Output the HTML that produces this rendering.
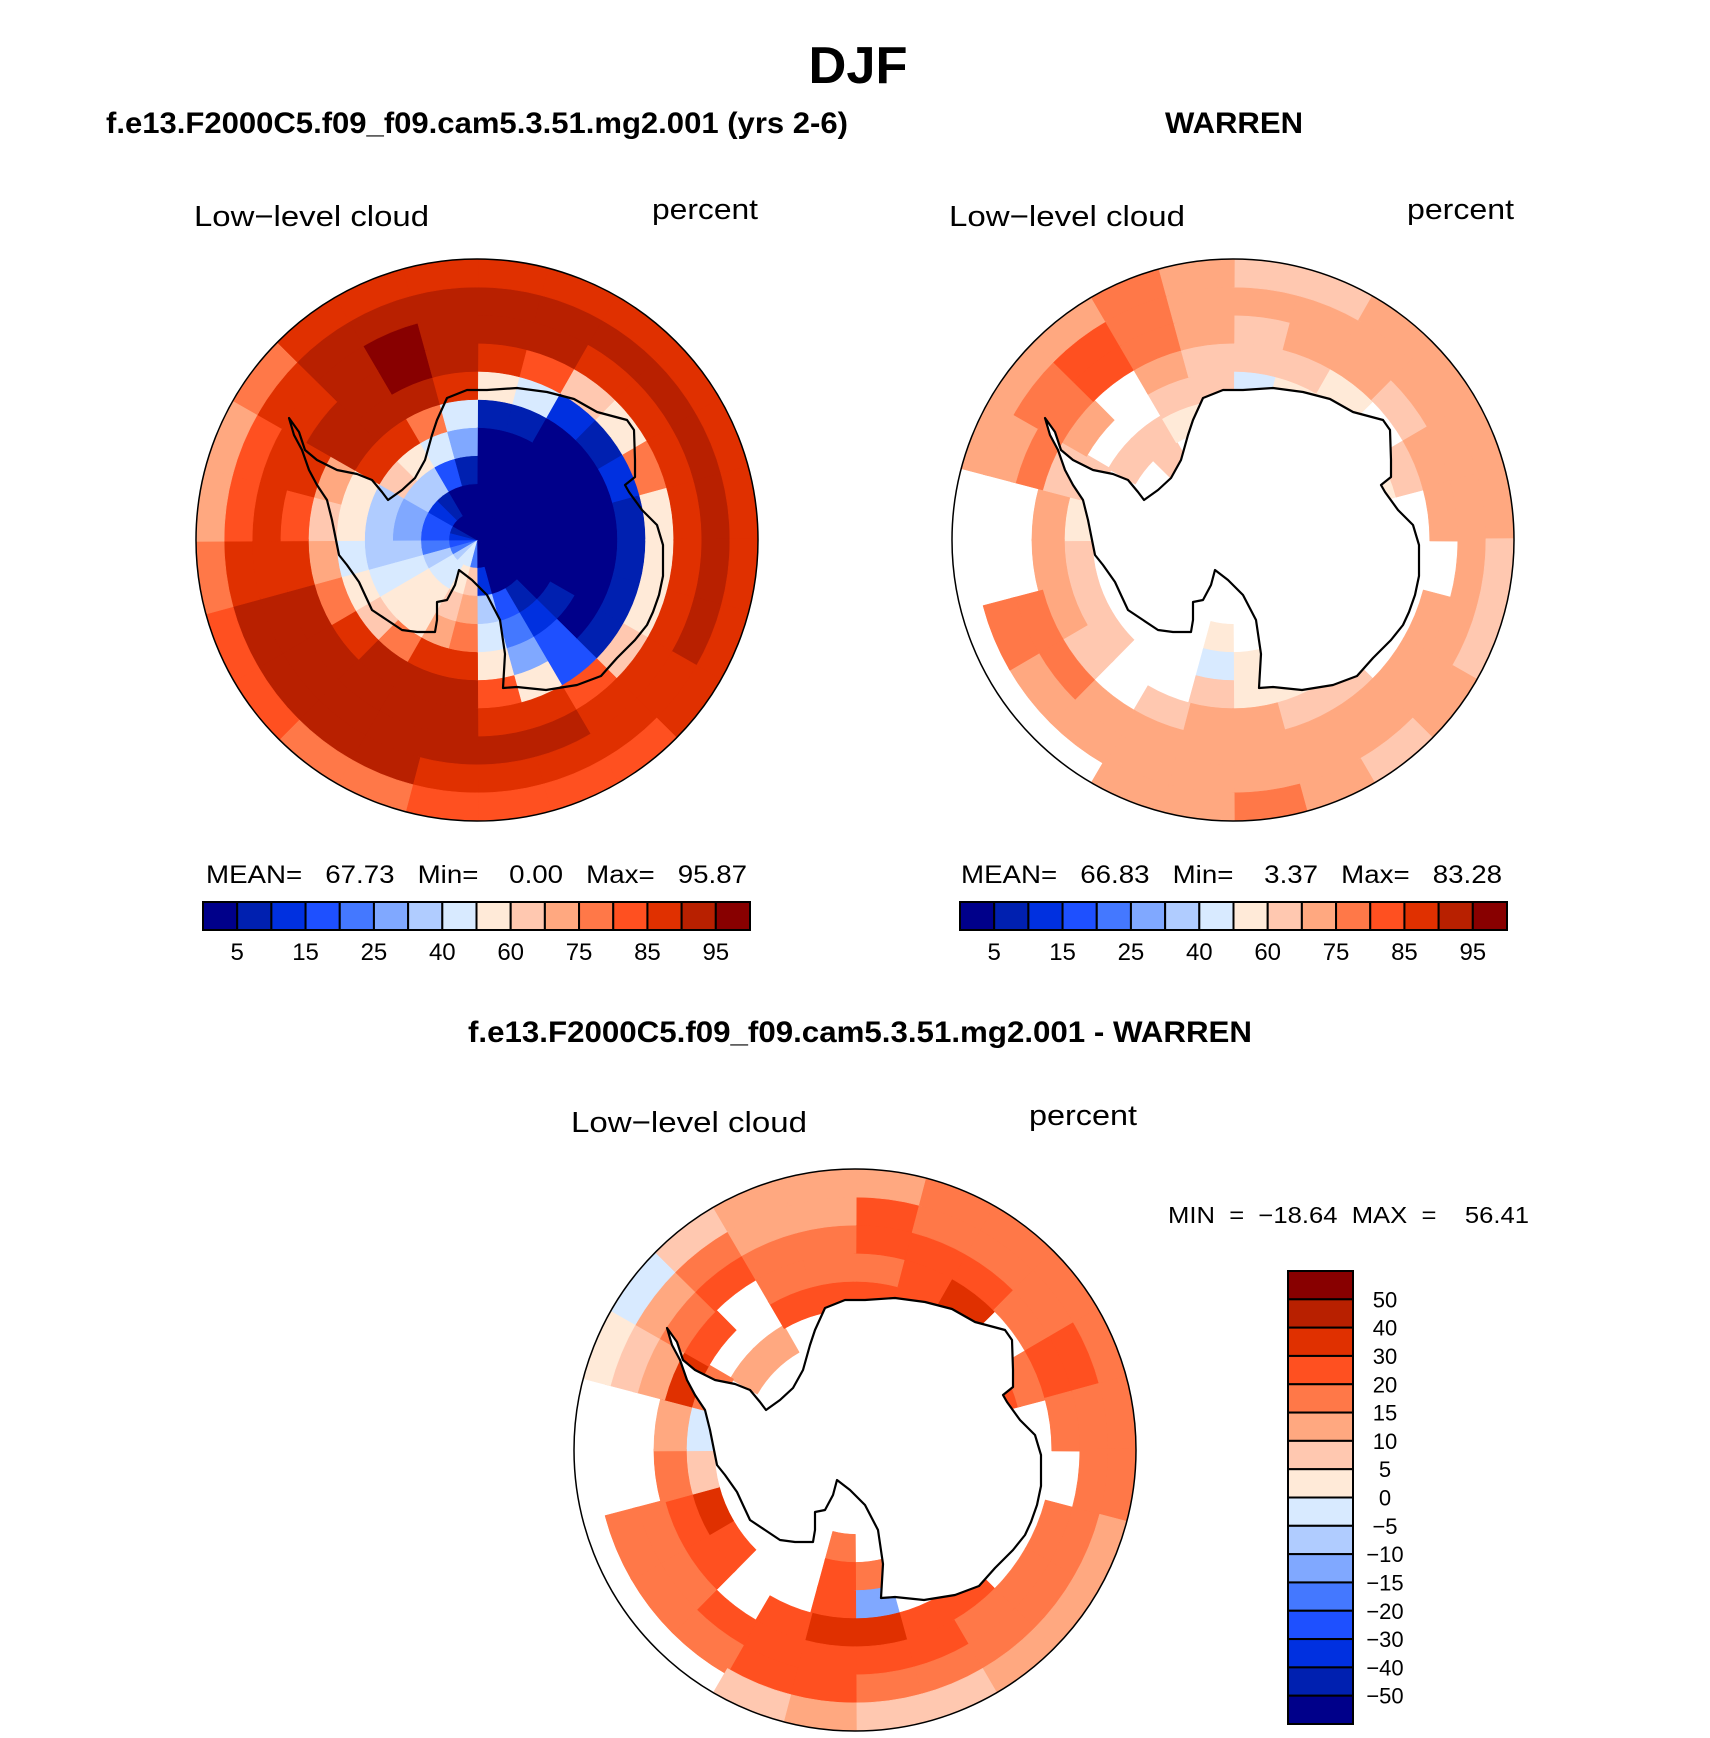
<!DOCTYPE html>
<html><head><meta charset="utf-8"><title>DJF Low-level cloud</title>
<style>
html,body{margin:0;padding:0;background:#fff;}
svg{display:block;}
text{font-family:"Liberation Sans",Arial,sans-serif;fill:#000;}
.b{font-weight:bold;}
.pre{white-space:pre;}
</style></head>
<body>
<svg id="fig" width="1710" height="1738" viewBox="0 0 1710 1738" xmlns="http://www.w3.org/2000/svg">
  <rect x="0" y="0" width="1710" height="1738" fill="#fff"/>
  <text class="b" x="858" y="83" font-size="52" text-anchor="middle" textLength="99" lengthAdjust="spacingAndGlyphs">DJF</text>
  <text class="b" x="106" y="133" font-size="30" textLength="742" lengthAdjust="spacingAndGlyphs">f.e13.F2000C5.f09_f09.cam5.3.51.mg2.001 (yrs 2-6)</text>
  <text class="b" x="1165" y="133" font-size="30" textLength="138" lengthAdjust="spacingAndGlyphs">WARREN</text>
  <text class="b" x="468" y="1042" font-size="30" textLength="784" lengthAdjust="spacingAndGlyphs">f.e13.F2000C5.f09_f09.cam5.3.51.mg2.001 - WARREN</text>

  <text x="194" y="226" font-size="29" textLength="235" lengthAdjust="spacingAndGlyphs">Low−level cloud</text>
  <text x="652" y="219" font-size="29" textLength="106" lengthAdjust="spacingAndGlyphs">percent</text>
  <text x="949" y="226" font-size="29" textLength="236" lengthAdjust="spacingAndGlyphs">Low−level cloud</text>
  <text x="1407" y="219" font-size="29" textLength="107" lengthAdjust="spacingAndGlyphs">percent</text>
  <text x="571" y="1132" font-size="29" textLength="236" lengthAdjust="spacingAndGlyphs">Low−level cloud</text>
  <text x="1029" y="1125" font-size="29" textLength="108" lengthAdjust="spacingAndGlyphs">percent</text>

  <text class="pre" x="206" y="883" font-size="25" textLength="541" lengthAdjust="spacingAndGlyphs">MEAN=   67.73   Min=    0.00   Max=   95.87</text>
  <text class="pre" x="961" y="883" font-size="25" textLength="541" lengthAdjust="spacingAndGlyphs">MEAN=   66.83   Min=    3.37   Max=   83.28</text>
  <text class="pre" x="1168" y="1223" font-size="23" textLength="361" lengthAdjust="spacingAndGlyphs">MIN  =  −18.64  MAX  =    56.41</text>
  <g id="layer"></g>
</svg>
<script>
// ---------- data ----------
const absColors = ["#00008a","#0020b0","#0030e0","#1e50ff","#4478ff","#80a8ff","#b0ccff","#d8eaff","#ffead8","#ffc8b0","#ffa880","#ff7848","#ff5020","#e03000","#b82000","#880000"];
const absLevels = [5,10,15,20,25,30,40,50,60,70,75,80,85,90,95];
const absTickLabels = ["5","15","25","40","60","75","85","95"];
const diffLevels = [-50,-40,-30,-20,-15,-10,-5,0,5,10,15,20,30,40,50];
const diffTickLabels = ["50","40","30","20","15","10","5","0","−5","−10","−15","−20","−30","−40","−50"];
// polar grid: 10 rings (inner->outer) x 24 sectors (clockwise from top, 15 deg each)
const N = null;
const modelValues = [
 [2,2,2,2,2,2,2,2,2,2,2,2,20,40,45,30,20,15,10,5,3,2,2,2],
 [2,2,2,2,2,2,2,2,2,2,3,10,60,55,45,40,30,20,15,15,12,8,3,2],
 [2,2,2,2,2,2,2,2,3,8,15,30,70,60,55,50,40,30,25,25,30,35,15,5],
 [3,2,2,2,2,2,2,2,5,12,20,40,75,70,55,55,45,35,30,35,65,55,40,25],
 [8,5,2,2,3,2,2,2,3,15,25,55,88,85,75,60,55,45,50,55,86,85,75,40],
 [55,40,10,8,10,5,5,5,8,15,50,80,92,92,90,85,75,70,65,70,90,92,92,85],
 [88,80,65,55,75,55,50,50,60,80,85,88,92,92,92,92,90,85,82,85,90,93,96,93],
 [92,91,88,86,88,86,85,86,87,88,90,91,92,92,92,92,91,88,86,86,88,92,96,93],
 [91,91,90,91,92,92,91,90,88,88,88,88,88,90,91,91,90,85,82,80,86,90,91,91],
 [88,87,87,88,88,88,87,86,85,83,82,80,80,78,78,80,82,78,72,70,78,86,88,88]
];
const obsValues = [
 [N,N,N,N,N,N,N,N,N,N,N,N,N,N,N,N,N,N,N,N,N,N,N,N],
 [N,N,N,N,N,N,N,N,N,N,N,N,N,N,N,N,N,N,N,N,N,N,N,N],
 [N,N,N,N,N,N,N,N,N,N,N,N,N,N,N,N,N,N,N,N,N,N,N,N],
 [N,N,N,N,N,N,N,N,N,N,N,N,55,N,N,N,N,N,N,N,N,60,N,N],
 [N,N,N,N,N,N,N,N,N,N,N,50,45,N,N,N,N,N,N,N,65,65,55,N],
 [45,50,55,N,50,N,N,55,N,N,55,50,60,N,N,65,65,60,55,60,N,N,60,60],
 [65,60,55,N,62,N,N,N,N,65,68,70,72,65,N,68,72,72,70,68,72,N,70,66],
 [68,72,70,62,72,72,N,72,72,72,72,72,72,72,70,76,76,N,N,76,78,80,76,70],
 [72,72,72,72,74,73,72,72,72,72,73,72,72,72,72,70,78,N,N,72,76,82,78,74],
 [66,66,72,72,72,72,68,68,72,66,72,78,72,70,N,N,N,N,N,72,72,72,76,72]
];
const diffValues = [
 [N,N,N,N,N,N,N,N,N,N,N,N,N,N,N,N,N,N,N,N,N,N,N,N],
 [N,N,N,N,N,N,N,N,N,N,N,N,N,N,N,N,N,N,N,N,N,N,N,N],
 [N,N,N,N,N,N,N,N,N,N,N,N,N,N,N,N,N,N,N,N,N,N,N,N],
 [N,N,N,N,N,N,N,N,N,N,N,N,15,N,N,N,N,N,N,N,N,N,N,N],
 [N,N,N,N,N,N,N,N,N,N,N,15,20,N,N,N,N,N,N,N,12,10,N,N],
 [22,25,35,N,25,N,N,25,N,N,N,-15,25,N,N,25,30,8,-5,15,N,N,25,20],
 [18,25,35,N,18,N,N,N,N,25,25,30,30,25,N,22,25,15,10,30,25,N,18,18],
 [25,22,25,18,25,18,N,18,18,18,22,22,25,25,25,18,18,N,N,12,18,25,18,15],
 [22,18,18,18,22,18,18,18,18,18,18,15,22,22,18,18,15,N,N,8,10,18,14,12],
 [12,18,18,18,18,18,15,12,12,10,8,6,10,8,N,N,N,N,N,3,-3,8,12,12]
];
// coastline, relative to map centre (x right, y down)
const coastX = [-188,-178,-172,-160,-140,-120,-105,-95,-89,-75,-62,-52,-45,-40,-30,-10,10,40,70,97,120,150,157,158,158,148,152,165,180,186,186,182,176,170,158,140,124,100,69,40,26,28,23,10,-5,-18,-22,-30,-40,-40,-42,-60,-75,-90,-105,-112,-118,-130,-138,-142,-145,-150,-160,-168,-175,-183];
const coastY = [-122,-108,-90,-80,-70,-66,-60,-48,-40,-50,-62,-80,-105,-120,-142,-150,-150,-152,-148,-141,-128,-120,-110,-80,-63,-55,-48,-30,-15,5,36,55,72,85,100,118,136,145,150,147,148,114,80,55,40,30,45,60,62,80,92,92,90,80,70,55,42,25,15,-5,-20,-40,-55,-70,-90,-105];

// ---------- drawing ----------
const NS = "http://www.w3.org/2000/svg";
const layer = document.getElementById("layer");
const R = 281;
function mk(tag, attrs, parent){ const e=document.createElementNS(NS,tag); for(const k in attrs) e.setAttribute(k,attrs[k]); (parent||layer).appendChild(e); return e; }
function colorFor(v, levels){ let i=0; while(i<levels.length && v>=levels[i]) i++; return absColors[i]; }
function pt(cx,cy,rho,deg){ const a=deg*Math.PI/180; return [cx+rho*Math.sin(a), cy-rho*Math.cos(a)]; }

function drawMap(id, cx, cy, values, levels, landWhite){
  const defs = mk("defs",{});
  const cp = mk("clipPath",{id:"clip-"+id}, defs);
  mk("circle",{cx:cx,cy:cy,r:R}, cp);
  const g = mk("g",{"clip-path":"url(#clip-"+id+")"});
  
  
  const nr = values.length, ns = values[0].length, step = 360/ns;
  for(let i=0;i<nr;i++){
    for(let k=0;k<ns;k++){
      const v = values[i][k];
      if(v===null) continue;
      const r0 = R*i/nr, r1 = R*(i+1)/nr*1.02+0.5, a0 = k*step-0.3, a1=(k+1)*step+0.3;
      const p1=pt(cx,cy,r1,a0), p2=pt(cx,cy,r1,a1), p3=pt(cx,cy,r0,a1), p4=pt(cx,cy,r0,a0);
      let d = "M"+p1[0]+","+p1[1]+" A"+r1+","+r1+" 0 0 1 "+p2[0]+","+p2[1]+" L"+p3[0]+","+p3[1];
      if(r0>0) d += " A"+r0+","+r0+" 0 0 0 "+p4[0]+","+p4[1];
      d += " Z";
      const c = mk("path",{d:d, fill:colorFor(v,levels), stroke:colorFor(v,levels), "stroke-width":0.5}, g);
      
      
    }
  }
  let d = "";
  for(let j=0;j<coastX.length;j++) d += (j?"L":"M")+(cx+coastX[j])+","+(cy+coastY[j]);
  d += "Z";
  const coast = mk("path",{d:d, fill: landWhite?"#fff":"none", stroke:"#000", "stroke-width":2.2, "stroke-linejoin":"round"});
  
  
  const ring = mk("circle",{cx:cx,cy:cy,r:R,fill:"none",stroke:"#000","stroke-width":1.5});
  
  
}

function drawHBar(id, x0, y0, w, h, labels){
  const n = absColors.length, bw = w/n;
  for(let i=0;i<n;i++){
    const r = mk("rect",{x:x0+i*bw, y:y0, width:bw, height:h, fill:absColors[i], stroke:"#000", "stroke-width":2});
    
    
  }
  labels.forEach((lab,j)=>{
    const b = 1+2*j;
    const t = mk("text",{x:x0+b*bw, y:y0+h+30, "font-size":24, "text-anchor":"middle"});
    t.textContent = lab;
    
    
  });
}

function drawVBar(id, x0, y0, w, h, labels){
  const n = absColors.length, bh = h/n;
  for(let i=0;i<n;i++){
    const r = mk("rect",{x:x0, y:y0+i*bh, width:w, height:bh, fill:absColors[n-1-i], stroke:"#000", "stroke-width":2});
    
    
  }
  labels.forEach((lab,j)=>{
    const t = mk("text",{x:x0+w+32, y:y0+(j+1)*bh+8, "font-size":22, "text-anchor":"middle"});
    t.textContent = lab;
    
    
  });
}

drawMap("model-map", 477, 540, modelValues, absLevels, false);
drawMap("obs-map", 1233, 540, obsValues, absLevels, true);
drawMap("diff-map", 855, 1450, diffValues, diffLevels, true);
drawHBar("model-colorbar", 203, 902, 547, 28, absTickLabels);
drawHBar("obs-colorbar", 960, 902, 547, 28, absTickLabels);
drawVBar("diff-colorbar", 1288, 1271, 65, 453, diffTickLabels);
</script>
</body></html>
